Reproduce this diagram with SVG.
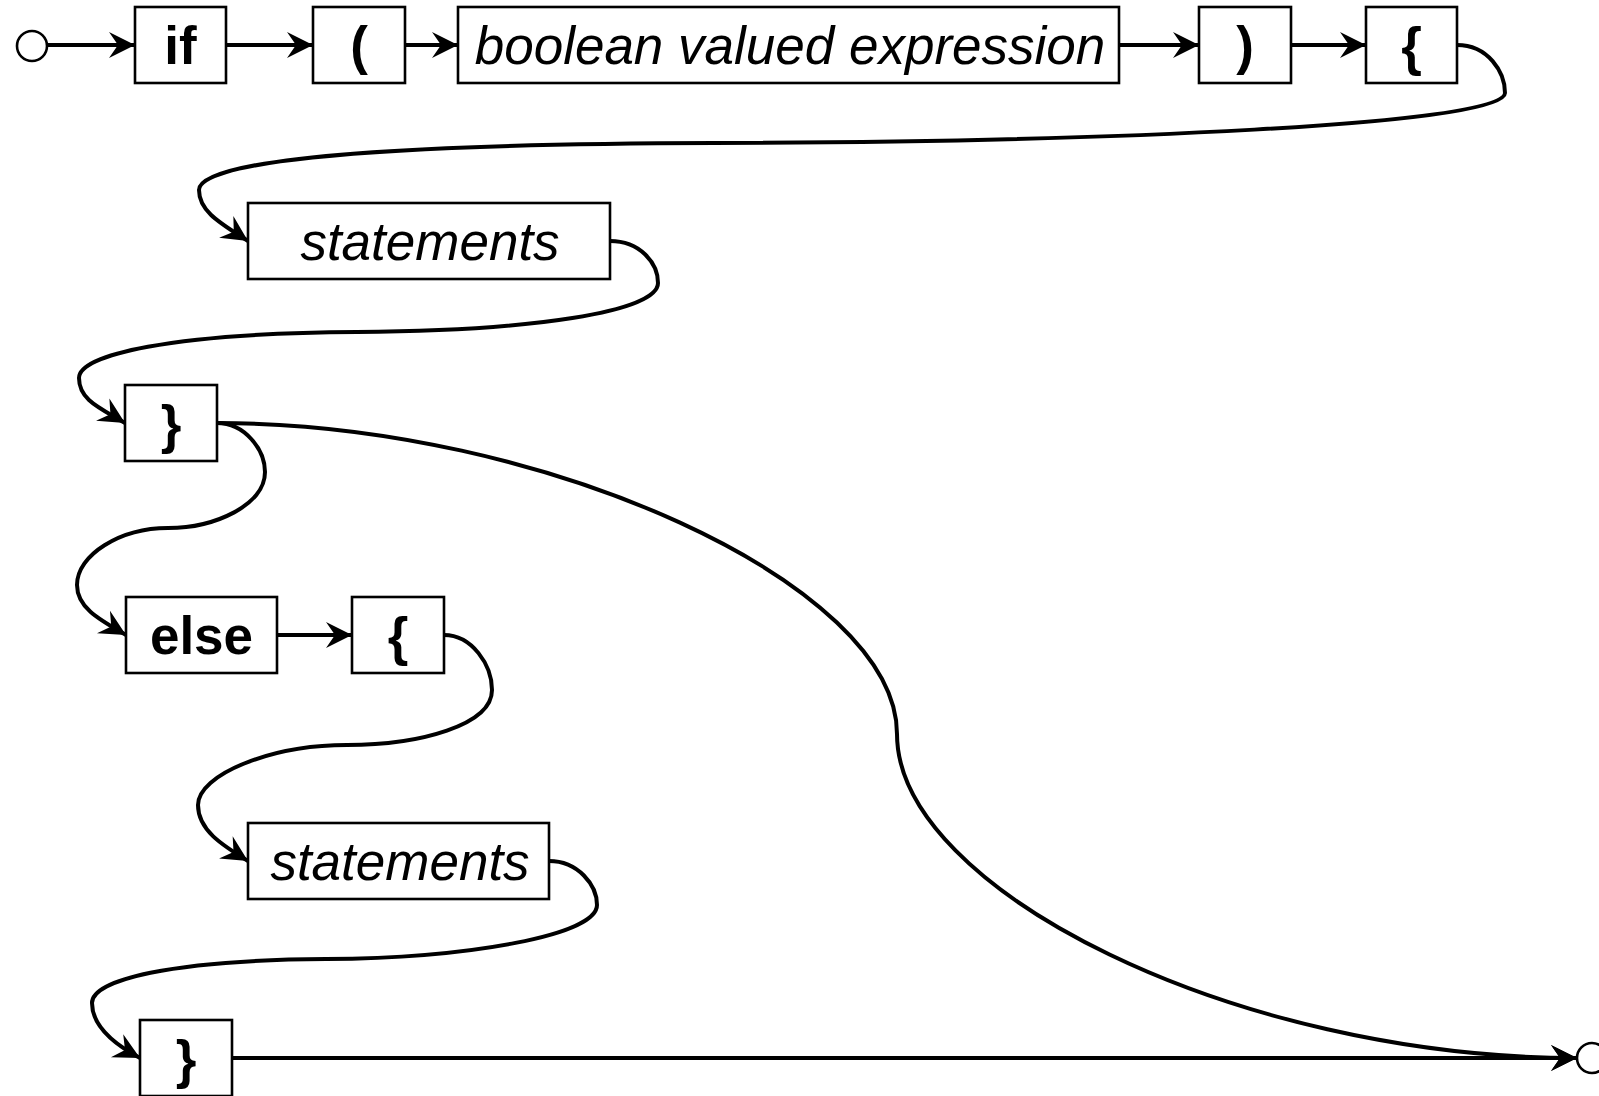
<svg xmlns="http://www.w3.org/2000/svg" width="1599" height="1096" viewBox="0 0 1599 1096">
<style>
.box{fill:#fff;stroke:#000;stroke-width:2.6}
.t{font-family:"Liberation Sans",Arial,sans-serif;font-size:53px;text-anchor:middle;fill:#000}
.b{font-weight:bold}
.i{font-style:italic}
.c{fill:none;stroke:#000;stroke-width:4;marker-end:url(#arr)}
.term{fill:#fff;stroke:#000;stroke-width:2.6}
</style>
<defs>
<marker id="arr" markerUnits="userSpaceOnUse" viewBox="-28 -15 30 30" markerWidth="30" markerHeight="30" refX="0" refY="0" orient="auto">
<path d="M0,0 L-26,-13 L-17,0 L-26,13 Z" fill="#000"/>
</marker>
</defs>
<rect width="1599" height="1096" fill="#fff"/>
<g id="connectors">
<path class="c" d="M48,45 L135,45"/>
<path class="c" d="M226,45 L313,45"/>
<path class="c" d="M405,45 L458,45"/>
<path class="c" d="M1119,45 L1199,45"/>
<path class="c" d="M1291,45 L1366,45"/>
<path class="c" d="M1457,45 C1488,45 1505,72 1505,93 C1505,125 1100,142 714,143 C330,144 199,165 199,190 C199,212 222,224 248,241"/>
<path class="c" d="M610,241 C640,241 658,263 658,283 C658,312 530,331 357,332 C170,333 79,355 79,378 C79,400 100,408 125,423"/>
<path class="c" d="M217,423 C245,423 265,450 265,472 C265,505 215,528 168,528 C120,528 77,555 77,585 C77,608 100,620 126,635"/>
<path class="c" d="M217,423 C545,423 897,585 897,734 C897,890 1237,1058 1577,1058"/>
<path class="c" d="M277,635 L352,635"/>
<path class="c" d="M444,635 C472,635 492,665 492,690 C492,725 420,745 347,745 C270,745 198,775 198,805 C198,830 222,845 248,861"/>
<path class="c" d="M549,861 C578,861 597,885 597,905 C597,935 470,958 326,959 C170,960 92,980 92,1003 C92,1025 112,1043 140,1058"/>
<path class="c" d="M232,1058 L1577,1058"/>
</g>
<g id="start"><circle class="term" cx="32" cy="46" r="15"/></g>
<g id="end"><circle class="term" cx="1592" cy="1058" r="15"/></g>
<g id="n-if"><rect class="box" x="135" y="7" width="91" height="76"/><text class="t b" x="180.5" y="64">if</text></g>
<g id="n-lparen"><rect class="box" x="313" y="7" width="92" height="76"/><text class="t b" x="359" y="64">(</text></g>
<g id="n-cond"><rect class="box" x="458" y="7" width="661" height="76"/><text class="t i" x="790" y="64">boolean valued expression</text></g>
<g id="n-rparen"><rect class="box" x="1199" y="7" width="92" height="76"/><text class="t b" x="1245" y="64">)</text></g>
<g id="n-lbrace1"><rect class="box" x="1366" y="7" width="91" height="76"/><text class="t b" x="1411.5" y="65">{</text></g>
<g id="n-stmts1"><rect class="box" x="248" y="203" width="362" height="76"/><text class="t i" x="430" y="260">statements</text></g>
<g id="n-rbrace1"><rect class="box" x="125" y="385" width="92" height="76"/><text class="t b" x="171" y="443">}</text></g>
<g id="n-else"><rect class="box" x="126" y="597" width="151" height="76"/><text class="t b" x="201.5" y="654">else</text></g>
<g id="n-lbrace2"><rect class="box" x="352" y="597" width="92" height="76"/><text class="t b" x="398" y="655">{</text></g>
<g id="n-stmts2"><rect class="box" x="248" y="823" width="301" height="76"/><text class="t i" x="400" y="880">statements</text></g>
<g id="n-rbrace2"><rect class="box" x="140" y="1020" width="92" height="76"/><text class="t b" x="186" y="1078">}</text></g>
</svg>
